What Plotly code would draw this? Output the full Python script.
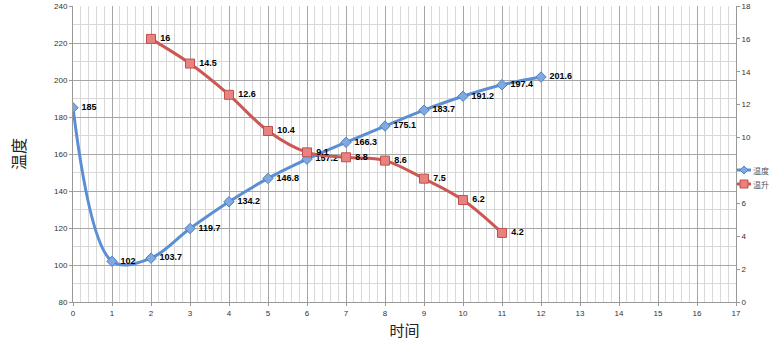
import plotly.graph_objects as go

temp_x = [0, 1, 2, 3, 4, 5, 6, 7, 8, 9, 10, 11, 12]
temp_y = [185, 102, 103.7, 119.7, 134.2, 146.8, 157.2, 166.3, 175.1, 183.7, 191.2, 197.4, 201.6]
rise_x = [2, 3, 4, 5, 6, 7, 8, 9, 10, 11]
rise_y = [16, 14.5, 12.6, 10.4, 9.1, 8.8, 8.6, 7.5, 6.2, 4.2]
series_names = ["温度", "温升"]
blue, blue_m, blue_e = "#5B8ED3", "#7FA9E0", "#4F81BD"
red, red_m, red_e = "#CD5753", "#E8827F", "#C0504D"

fig = go.Figure()
fig.add_trace(go.Scatter(
    x=temp_x, y=temp_y, name=series_names[0], mode="lines+markers+text",
    line=dict(color=blue, width=3, shape="spline", smoothing=1),
    marker=dict(symbol="diamond", size=8, color=blue_m, line=dict(color=blue_e, width=1)),
    text=[str(v) for v in temp_y], texttemplate=" <b>%{text}</b>",
    textposition="middle right", textfont=dict(size=9, color="black", family="Liberation Sans"),
))
fig.add_trace(go.Scatter(
    x=rise_x, y=rise_y, name=series_names[1], yaxis="y2", mode="lines+markers+text",
    line=dict(color=red, width=3, shape="spline", smoothing=1),
    marker=dict(symbol="square", size=9, color=red_m, line=dict(color=red_e, width=1)),
    text=[str(v) for v in rise_y], texttemplate=" <b>%{text}</b>",
    textposition="middle right", textfont=dict(size=9, color="black", family="Liberation Sans"),
))

# compact legend drawn at the right edge (paper coordinates)
def px_x(p):
    return (p - 73) / 663.0

def px_y(p):
    return (302 - p) / 296.0

legend_rows = [(series_names[0], 170, blue, blue_m, blue_e, "diamond"),
               (series_names[1], 184, red, red_m, red_e, "square")]
for name, py, lc, mc, ec, sym in legend_rows:
    fig.add_shape(type="line", xref="paper", yref="paper",
                  x0=px_x(737), x1=px_x(751), y0=px_y(py), y1=px_y(py),
                  line=dict(color=lc, width=3))
    cx, cy = px_x(744), px_y(py)
    dx, dy = 4 / 663.0, 4 / 296.0
    if sym == "diamond":
        path = f"M {cx - dx} {cy} L {cx} {cy + dy} L {cx + dx} {cy} L {cx} {cy - dy} Z"
    else:
        path = f"M {cx - dx} {cy - dy} L {cx + dx} {cy - dy} L {cx + dx} {cy + dy} L {cx - dx} {cy + dy} Z"
    fig.add_shape(type="path", xref="paper", yref="paper", path=path,
                  fillcolor=mc, line=dict(color=ec, width=1))
    fig.add_annotation(text=name, xref="paper", yref="paper", x=px_x(751), y=px_y(py),
                       xanchor="left", yanchor="middle", showarrow=False,
                       font=dict(size=8, family="Noto Sans CJK SC", color="#555"))

fig.update_layout(
    width=774, height=352,
    margin=dict(l=73, r=38, t=6, b=50, autoexpand=False),
    paper_bgcolor="white", plot_bgcolor="white",
    font=dict(family="Liberation Sans", size=8, color="#333"),
    showlegend=False,
    xaxis=dict(
        range=[0, 17], dtick=1, showgrid=True, gridcolor="#A6A6A6", gridwidth=1,
        minor=dict(dtick=0.2, showgrid=True, gridcolor="#D9D9D9", gridwidth=1),
        showline=True, linecolor="#999", ticks="outside", ticklen=3, tickcolor="#999",
        zeroline=False,
        title=dict(text="时间", font=dict(family="Noto Sans CJK SC", size=15, color="#222"), standoff=8),
        tickfont=dict(size=8),
    ),
    yaxis=dict(
        range=[80, 240], dtick=20, showgrid=True, gridcolor="#A6A6A6", gridwidth=1,
        minor=dict(dtick=10, showgrid=True, gridcolor="#D9D9D9", gridwidth=1),
        showline=True, linecolor="#999", ticks="outside", ticklen=3, tickcolor="#999",
        zeroline=False,
        title=dict(text="温度", font=dict(family="Noto Sans CJK SC", size=16, color="#222"), standoff=24),
        tickfont=dict(size=8),
    ),
    yaxis2=dict(
        range=[0, 18], dtick=2, overlaying="y", side="right", showgrid=False,
        showline=True, linecolor="#999", ticks="outside", ticklen=3, tickcolor="#999",
        zeroline=False, tickfont=dict(size=8),
    ),
)

fig.write_html("out.html")
